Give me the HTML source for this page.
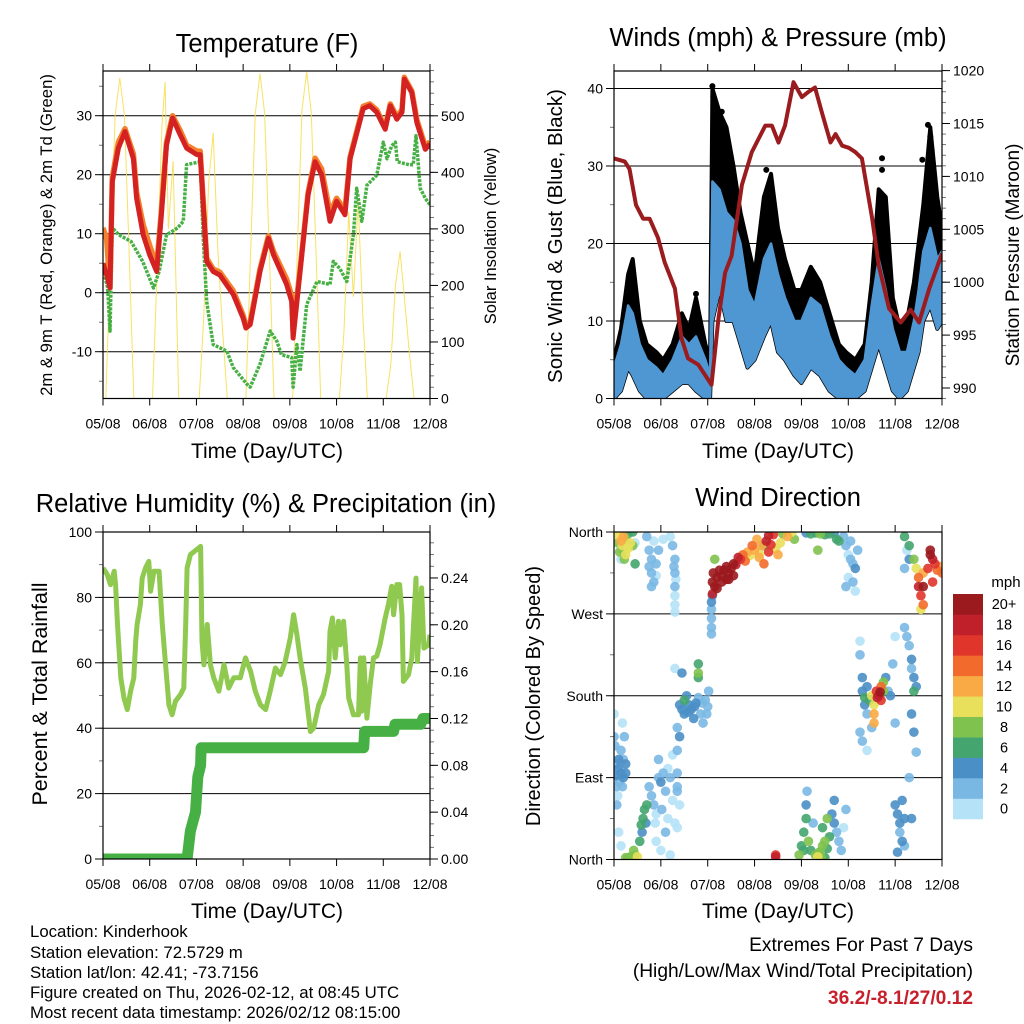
<!DOCTYPE html>
<html><head><meta charset="utf-8"><style>
html,body{margin:0;padding:0;background:#fff;}
svg{display:block;font-family:"Liberation Sans",Arial,sans-serif;}
</style></head><body>
<svg id="chart" width="1024" height="1024" viewBox="0 0 1024 1024" xmlns="http://www.w3.org/2000/svg">
<rect x="0" y="0" width="1024" height="1024" fill="#fff"/>
<text x="267" y="52" font-size="25.5" text-anchor="middle">Temperature (F)</text>
<text x="778" y="46" font-size="25.5" text-anchor="middle">Winds (mph) &amp; Pressure (mb)</text>
<text x="266" y="512" font-size="25.5" text-anchor="middle">Relative Humidity (%) &amp; Precipitation (in)</text>
<text x="778" y="506" font-size="25.5" text-anchor="middle">Wind Direction</text>
<text x="267" y="458" font-size="21" text-anchor="middle">Time (Day/UTC)</text>
<text x="778" y="458" font-size="21" text-anchor="middle">Time (Day/UTC)</text>
<text x="267" y="918" font-size="21" text-anchor="middle">Time (Day/UTC)</text>
<text x="778" y="918" font-size="21" text-anchor="middle">Time (Day/UTC)</text>
<text transform="translate(52,235) rotate(-90)" font-size="16.7" text-anchor="middle">2m &amp; 9m T (Red, Orange) &amp; 2m Td (Green)</text>
<text transform="translate(496,236) rotate(-90)" font-size="16.5" text-anchor="middle">Solar Insolation (Yellow)</text>
<text transform="translate(562,236) rotate(-90)" font-size="20.5" text-anchor="middle">Sonic Wind &amp; Gust (Blue, Black)</text>
<text transform="translate(1019,255) rotate(-90)" font-size="19" text-anchor="middle">Station Pressure (Maroon)</text>
<text transform="translate(47,694) rotate(-90)" font-size="21.5" text-anchor="middle">Percent &amp; Total Rainfall</text>
<text transform="translate(540,696) rotate(-90)" font-size="20" text-anchor="middle">Direction (Colored By Speed)</text>
<g font-size="16.8">
<text x="30" y="937">Location: Kinderhook</text>
<text x="30" y="958">Station elevation: 72.5729 m</text>
<text x="30" y="978">Station lat/lon: 42.41; -73.7156</text>
<text x="30" y="998">Figure created on Thu, 2026-02-12, at 08:45 UTC</text>
<text x="30" y="1018">Most recent data timestamp: 2026/02/12 08:15:00</text>
</g>
<g font-size="19.2" text-anchor="end">
<text x="973" y="951">Extremes For Past 7 Days</text>
<text x="973" y="977">(High/Low/Max Wind/Total Precipitation)</text>
<text x="973" y="1004" fill="#c8202a" font-weight="bold">36.2/-8.1/27/0.12</text>
</g>
<text x="1006" y="587" font-size="15" text-anchor="middle">mph</text>
</svg>
<script>
// ---------- data ----------
const dayLabels = ['05/08','06/08','07/08','08/08','09/08','10/08','11/08','12/08'];
const tempT = [0,0.08,0.15,0.2,0.33,0.47,0.65,0.72,0.86,1.0,1.15,1.25,1.36,1.49,1.65,1.79,2.01,2.08,2.22,2.36,2.5,2.79,3.0,3.06,3.15,3.36,3.54,3.65,3.93,4.04,4.07,4.22,4.39,4.54,4.68,4.86,5.0,5.18,5.29,5.57,5.71,5.86,6.04,6.15,6.29,6.4,6.45,6.61,6.72,6.9,7.0];
const temp2m = [5,3,0.8,18.8,24.5,27.3,22.7,16,9.8,6.4,3.6,13.2,25,29.6,26.8,24.5,23.4,23.4,5.3,3.6,3.0,-0.3,-4.3,-6,-5.4,3.6,9.2,6.4,1.4,-1.5,-7.7,3.6,16.6,22.2,20,12.1,15.5,13.2,22.7,31.2,31.7,30.6,27.7,31.7,29.4,30.6,36.2,33.9,28.8,24.3,25.2];
const temp9m = [11,9,1,19.5,25.5,27.8,23.5,17,11.5,8,4.5,14,25.5,30,27.5,25,24,24,5.8,4,3.5,0.3,-3.8,-5.5,-5,4,9.6,7,2.3,-0.5,-6.5,4,17,22.8,21,13.5,16,14,23,31.6,32,31,28,32,29.8,31,36.5,34.2,29.3,24.8,25.6];
const dewT = [0,0.1,0.15,0.2,0.34,0.6,0.85,1.08,1.2,1.36,1.6,1.72,1.79,2.08,2.15,2.22,2.36,2.65,2.79,3.08,3.15,3.36,3.58,3.72,3.82,4.04,4.07,4.15,4.22,4.36,4.58,4.86,4.93,5.07,5.22,5.36,5.43,5.54,5.65,5.86,6.0,6.08,6.18,6.26,6.3,6.55,6.64,6.7,6.79,6.9,7.0];
const dewV = [4.1,0.8,-6.5,11,9.8,8.7,5.3,0.8,3.6,9.8,11,12.1,21.7,22.2,8.7,-1.5,-8.8,-9.9,-12.7,-15.5,-16,-12.1,-6.5,-8.2,-10.5,-11,-16,-8.8,-13.3,-2,1.9,1.4,5.3,4.1,1.9,9.8,17.7,12.1,18.2,19.9,25.5,22.7,24.9,25.5,22.2,21.7,21.7,26.6,17.7,16,14.9];
const solarT = [0.06,0.16,0.26,0.36,0.46,0.56,0.66, 1.06,1.16,1.26,1.33,1.4,1.5,1.62, 2.06,2.16,2.26,2.36,2.46,2.56,2.66, 3.06,3.16,3.26,3.36,3.46,3.56,3.66, 4.06,4.16,4.26,4.36,4.46,4.56,4.66, 5.06,5.16,5.26,5.36,5.46,5.56,5.66, 6.06,6.16,6.26,6.36,6.46,6.56,6.66];
const solarV = [0,255,500,567,500,255,0, 0,230,480,560,300,420,0, 0,150,380,470,260,120,0, 0,260,505,575,505,260,0, 0,260,510,578,505,260,0, 0,120,330,180,350,150,0, 0,60,200,260,170,80,0];
const windT = [0,0.15,0.3,0.4,0.55,0.7,0.9,1.05,1.25,1.45,1.6,1.75,1.95,2.05,2.1,2.25,2.4,2.55,2.7,2.85,3.0,3.2,3.35,3.5,3.65,3.85,4.0,4.2,4.4,4.6,4.8,4.95,5.15,5.35,5.5,5.65,5.8,5.95,6.1,6.25,6.4,6.5,6.6,6.75,6.9,7.0];
const windLo = [0,1,4,3,1,0,0,0,1,2,2,1,0,0,10,14,10,10,7,4,5,8,10,6,5,3,2,4,3,1,0,0,0,1,4,7,4,1,0,1,4,6,10,12,9,10];
const windHi = [4,7,12,11,7,5,4,3,5,8,7,8,5,3,28,27,24,23,20,14,12,18,20,16,13,10,10,13,12,8,5,4,3,5,12,18,14,9,6,6,10,14,19,22,18,19];
const gustV = [5,9,16,18,10,7,6,5,7,11,9,13,7,5,40,37,35,30,24,20,16,26,29,22,18,14,14,17,15,11,7,6,5,7,15,27,26,13,9,10,15,20,25,35,26,22];
const gustDotT = [2.1,2.12,2.3,2.35,3.25,5.72,5.72,6.58,6.7,6.75,6.78,1.75,1.75];
const gustDotV = [40.3,39,37,33.5,29.5,31,29.5,30.8,35.3,33.8,32,13.5,12.3];
const presT = [0,0.23,0.33,0.47,0.62,0.76,0.94,1.08,1.3,1.44,1.58,1.8,2.08,2.23,2.37,2.51,2.73,2.94,3.23,3.37,3.51,3.65,3.83,4.01,4.15,4.29,4.44,4.62,4.73,4.87,5.01,5.15,5.29,5.51,5.65,5.87,6.12,6.33,6.51,6.73,7.0];
const presV = [1011.7,1011.4,1010.7,1007.3,1006,1006,1004.2,1001.9,999.4,994.7,992.8,992.2,990.3,996.6,1000.9,1002.5,1009.2,1012.3,1014.8,1014.8,1013.2,1014.8,1018.9,1017.5,1018,1018.4,1016,1013.2,1014,1012.9,1012.7,1012.3,1011.7,1006,1001.6,997.5,996.2,997.4,996.2,999.4,1002.7];
const rhT = [0,0.09,0.16,0.24,0.27,0.31,0.38,0.45,0.52,0.59,0.66,0.70,0.73,0.80,0.84,0.91,0.98,1.02,1.09,1.20,1.23,1.27,1.34,1.41,1.48,1.55,1.66,1.73,1.77,1.80,1.87,2.09,2.12,2.16,2.23,2.30,2.37,2.48,2.59,2.69,2.80,2.94,3.05,3.16,3.26,3.37,3.48,3.58,3.69,3.80,3.90,4.01,4.08,4.15,4.22,4.33,4.44,4.51,4.62,4.72,4.83,4.86,4.91,4.97,5.04,5.08,5.15,5.22,5.26,5.36,5.47,5.51,5.54,5.58,5.65,5.72,5.79,5.86,5.93,6.04,6.11,6.18,6.22,6.29,6.35,6.40,6.43,6.54,6.61,6.70,6.73,6.82,6.87,6.97,7.0];
const rhV = [89,87,83.9,88,83.9,71.7,55.4,49.2,45.7,51.3,55.4,66.6,71.7,77.8,85.9,89,91,81.9,88,88,80.8,71.7,59.4,47.2,44.1,48.2,50.3,52.3,71.7,89,93.1,95.6,66.6,59.4,71.7,59.4,55.4,51.3,59.4,52.3,55.4,55.4,61.5,57.4,51.3,47.2,45.7,51.3,58.4,56.4,60.4,67.6,74.7,68.6,61.5,52.3,39,40.1,47.2,50.3,57.4,69.6,73.7,61.5,72.7,65.5,72.7,59.4,49.2,44.1,44.1,61.5,45.2,61.5,43.1,53.3,61.5,62,65.5,73.7,77.8,83.4,74.7,83.9,83.9,74.7,54.3,56.4,61.5,85.9,60.4,82.9,64.5,65.5,68.6];
const precipT = [0,1.8,1.87,1.98,2.03,2.09,2.1,5.58,5.6,6.22,6.25,6.8,6.85,7.0];
const precipV = [0,0,0.024,0.04,0.07,0.08,0.095,0.095,0.109,0.109,0.115,0.115,0.12,0.12];
const dirPts = [
[0.1,356,10],[0.15,350,12],[0.18,345,11],[0.2,340,9],[0.25,352,8],[0.3,358,7],[0.35,348,10],[0.4,360,6],[0.25,335,10],[0.45,325,6],[0.12,338,8],[0.2,355,13],[0.22,330,9],[0.4,345,8],[0.08,348,9],[0.3,342,11],
[0.7,355,2],[0.75,340,3],[0.8,330,2],[0.8,315,3],[0.85,350,1],[0.9,325,3],[0.95,340,2],[0.85,305,2],[0.8,300,3],[1.05,352,1],[1.2,355,1],[1.25,345,2],[1.3,330,3],[1.3,315,2],[1.3,300,3],[1.3,290,1],[1.3,280,1],[1.3,272,1],[0.15,330,1],[0.45,348,1],[0.75,322,2],[0.9,312,1],[1.28,322,2],[1.32,308,1],
[0.0,160,1],[0.0,135,2],[0.02,125,2],[0.05,105,3],[0.1,100,4],[0.15,95,4],[0.2,90,4],[0.25,95,4],[0.2,110,3],[0.15,120,2],[0.22,135,2],[0.05,80,2],[0.12,85,3],[0.25,105,4],[0.18,150,1],[0.08,70,1],[0.03,92,4],[0.1,110,4],[0.18,80,3],[0.06,60,2],
[0.3,2,7],[0.35,3,8],[0.45,5,9],[0.5,3,10],[0.42,10,8],[0.55,20,6],[0.6,30,4],[0.62,45,6],[0.65,55,7],[0.7,60,6],[0.68,40,4],[0.1,30,1],[0.15,15,1],[0.25,2,8],[0.38,1,8],[0.58,38,6],
[0.75,80,2],[0.8,70,3],[0.85,60,2],[0.9,50,1],[0.95,90,3],[1.0,85,4],[1.05,95,3],[1.1,75,2],[1.15,100,1],[1.2,90,2],[1.25,65,1],[1.3,40,1],[1.35,80,2],[0.9,20,1],[1.0,10,1],[1.1,30,2],[1.2,5,1],[1.4,60,1],[1.35,35,1],[0.95,110,2],[1.25,115,1],[0.88,40,1],[1.02,55,2],[1.15,45,1],
[1.4,170,4],[1.45,165,4],[1.5,175,6],[1.5,160,4],[1.55,180,4],[1.6,170,5],[1.65,165,4],[1.7,155,4],[1.75,172,4],[1.8,178,3],[1.85,160,3],[1.9,150,3],[1.95,175,2],[2.0,168,2],[2.02,185,2],[1.8,200,6],[1.8,215,7],[1.8,205,8],[1.45,205,4],[1.3,210,1],[1.4,135,4],[1.35,145,2],[1.35,120,2],[1.35,95,2],[1.35,75,2],[1.58,162,4],[1.72,168,4],[1.88,172,2],[1.98,160,2],
[2.08,283,4],[2.08,275,2],[2.08,265,2],[2.08,255,2],[2.08,248,2],[2.1,290,4],
[2.1,292,18],[2.1,305,20],[2.12,315,21],[2.15,300,21],[2.2,310,22],[2.25,318,20],[2.3,312,22],[2.35,318,21],[2.4,322,22],[2.45,315,21],[2.5,320,22],[2.55,325,20],[2.6,324,19],[2.65,332,18],[2.7,330,16],[2.75,335,14],[2.8,328,15],[2.85,338,12],[2.9,334,10],[2.15,330,8],[2.4,308,20],[2.55,312,21],[2.3,305,21],[2.45,308,22],[2.2,298,20],
[2.95,345,14],[3.0,340,13],[3.05,352,12],[3.1,336,11],[3.15,345,13],[3.2,325,14],[3.25,350,18],[3.3,356,19],[3.35,346,17],[3.4,357,16],[3.45,342,11],[3.5,335,12],[3.55,348,10],[3.6,358,9],[3.7,355,12],[3.8,360,10],[3.85,352,8],[3.1,332,12],[3.3,338,16],[3.2,345,7],
[4.1,359,4],[4.2,358,6],[4.3,359,7],[4.4,358,8],[4.5,357,7],[4.6,358,6],[4.7,359,5],[4.75,352,6],[4.8,350,6],[4.35,340,8],
[4.9,355,2],[4.95,345,2],[5.0,335,1],[5.05,350,2],[5.1,325,2],[5.15,320,4],[5.2,340,2],[5.1,305,2],[5.0,310,1],[4.95,300,2],[5.15,295,1],[5.05,330,2],
[3.95,5,8],[4.0,15,6],[4.05,30,6],[4.1,45,6],[4.1,60,4],[4.12,75,2],[4.15,20,8],[4.2,10,6],[4.25,40,2],[4.3,5,9],[4.35,3,10],[4.4,8,8],[4.45,15,8],[4.5,2,6],[4.55,12,7],[4.6,25,6],[4.65,50,4],[4.7,65,4],[4.7,40,4],[4.75,30,3],[4.8,20,2],[4.85,10,2],[4.9,35,1],[4.95,55,2],[4.5,20,8],[4.55,45,8],[4.45,35,6],[4.38,8,8],[4.42,2,9],[4.05,10,6],
[3.45,3,18],[3.45,5,16],
[5.25,240,1],[5.25,225,2],[5.3,200,4],[5.3,185,4],[5.35,178,6],[5.35,170,4],[5.4,190,4],[5.4,160,2],[5.25,140,2],[5.3,130,2],[5.45,175,6],[5.5,180,10],[5.55,170,10],[5.55,160,12],[5.55,150,12],[5.6,185,16],[5.65,180,18],[5.7,175,16],[5.7,190,14],[5.75,185,8],[5.75,195,8],[5.8,200,4],[5.85,185,2],[5.9,180,4],[5.95,215,2],[6.0,245,1],[6.0,150,2],[5.5,145,2],[5.4,120,1],[5.62,178,18],[5.68,184,20],
[6.0,60,4],[6.05,50,4],[6.1,40,4],[6.1,30,3],[6.15,20,4],[6.2,15,3],[6.2,45,4],[6.05,8,4],[6.35,45,4],[6.15,65,4],[6.3,90,2],
[6.2,255,2],[6.25,245,3],[6.3,235,2],[6.35,220,4],[6.35,210,3],[6.4,200,4],[6.4,185,6],[6.45,190,4],[6.35,160,4],[6.4,140,4],[6.45,118,2],
[6.3,345,6],[6.4,330,8],[6.45,320,10],[6.5,310,14],[6.5,300,18],[6.55,290,16],[6.6,280,14],[6.55,275,10],[6.6,315,12],[6.7,320,16],[6.75,335,20],[6.8,330,18],[6.85,325,16],[6.9,318,14],[6.95,322,12],[7.0,315,14],[6.8,305,16],[6.75,340,20],[6.6,300,20],[6.2,355,6],[6.25,340,1],[6.3,330,4],[6.2,320,2]
];
const speedLabels = ['0','2','4','6','8','10','12','14','16','18','20+'];
const speedColors = ['#b6e2f7','#7ab8e4','#4a8fc6','#44a56e','#7fc24e','#e8e05a','#f9aa45','#f26a2c','#e0352b','#c0202a','#9b1a1e'];
const tempTicks = [-10,0,10,20,30];
const solarTicks = [0,100,200,300,400,500];
const windTicks = [0,10,20,30,40];
const presTicks = [990,995,1000,1005,1010,1015,1020];
const rhTicks = [0,20,40,60,80,100];
const precipTicks = [0,0.04,0.08,0.12,0.16,0.20,0.24];
const dirTicks = [0,90,180,270,360];
const dirLabels = ['North','East','South','West','North'];

// ---------- helpers ----------
const NS = 'http://www.w3.org/2000/svg';
const svg = document.getElementById('chart');
function mk(tag, attrs, parent){ const e = document.createElementNS(NS, tag); for (const k in attrs) e.setAttribute(k, attrs[k]); (parent||svg).appendChild(e); return e; }

const P1 = {x0:103,x1:430,y0:71,y1:398.5};
const P2 = {x0:614,x1:942,y0:71,y1:398.5};
const P3 = {x0:103,x1:430,y0:532,y1:859};
const P4 = {x0:614,x1:942,y0:532,y1:859.5};
function xd(p,d){ return p.x0 + d/7*(p.x1-p.x0); }
const yTemp = v => 292.7 - 5.9*v;
const ySolar = v => 398.5 - 0.5654*v;
const yWind = v => 398.5 - 7.75*v;
const yPres = v => 388 - 10.58*(v-990);
const yRh = v => 859 - 3.27*v;
const yPrecip = v => 859 - 1171*v;
const yDir = v => 859.5 - v*(327.5/360);

function pathFrom(p, ts, vs, yf){ let s=''; for (let i=0;i<ts.length;i++){ s += (i?'L':'M') + xd(p,ts[i]).toFixed(1) + ' ' + yf(vs[i]).toFixed(1); } return s; }

function frame(p, key){
  const g = mk('g', {});
  
  
  for (let i=0;i<dayLabels.length;i++){
    const x = xd(p,i);
    const t1 = mk('line', {x1:x,x2:x,y1:p.y0,y2:p.y0-7,stroke:'#000','stroke-width':1}, g);
    
    
    const t2 = mk('line', {x1:x,x2:x,y1:p.y1,y2:p.y1+7,stroke:'#000','stroke-width':1}, g);
    
    
    const lb = mk('text', {x:x,y:p.y1+30,'font-size':14,'text-anchor':'middle'}, g);
    lb.textContent = dayLabels[i];
    
    
  }
  return g;
}
function yAxis(p, key, ticks, labels, yf, side, minorStep, minorFrom, minorTo, grid){
  const g = mk('g', {});
  
  
  const xe = side==='left' ? p.x0 : p.x1;
  const dir = side==='left' ? -1 : 1;
  for (let v=minorFrom; v<=minorTo+1e-9; v+=minorStep){
    const y = yf(v);
    if (y < p.y0-0.5 || y > p.y1+0.5) continue;
    const m = mk('line', {x1:xe,x2:xe+dir*4,y1:y,y2:y,stroke:'#555','stroke-width':0.8}, g);
    
    
  }
  for (let i=0;i<ticks.length;i++){
    const y = yf(ticks[i]);
    if (grid){
      const gl = mk('line', {x1:p.x0,x2:p.x1,y1:y,y2:y,stroke:'#000','stroke-width':1}, g);
      
      
    }
    const t = mk('line', {x1:xe,x2:xe+dir*8,y1:y,y2:y,stroke:'#000','stroke-width':1}, g);
    
    
    const lb = mk('text', {x:xe+dir*11,y:y+5,'font-size':14,'text-anchor':side==='left'?'end':'start'}, g);
    lb.textContent = labels[i];
    
    
  }
}
function border(p, key){
  const r = mk('rect', {x:p.x0,y:p.y0,width:p.x1-p.x0,height:p.y1-p.y0,fill:'none',stroke:'#000','stroke-width':1.2});
  
  
}
function clip(p, id){
  const c = mk('clipPath', {id:id});
  mk('rect', {x:p.x0,y:p.y0,width:p.x1-p.x0,height:p.y1-p.y0}, c);
}
clip(P1,'c1'); clip(P2,'c2'); clip(P3,'c3'); clip(P4,'c4');

// ---------- Panel 1: temperature ----------
yAxis(P1,'temp',tempTicks,tempTicks.map(String),yTemp,'left',5,-15,35,true);
yAxis(P1,'solar',solarTicks,solarTicks.map(String),ySolar,'right',20,0,580,false);
frame(P1,'temp');
const g1 = mk('g', {'clip-path':'url(#c1)'});


const solarLine = mk('path', {d:pathFrom(P1,solarT,solarV,ySolar),fill:'none',stroke:'#f6df52','stroke-width':1,opacity:0.9}, g1);


const dewLine = mk('path', {d:pathFrom(P1,dewT,dewV,yTemp),fill:'none',stroke:'#46b044','stroke-width':3.5,'stroke-dasharray':'3 1.2','stroke-linejoin':'round'}, g1);


const t9Line = mk('path', {d:pathFrom(P1,tempT,temp9m,yTemp),fill:'none',stroke:'#f4812e','stroke-width':5.5,'stroke-linejoin':'round'}, g1);


const t2Line = mk('path', {d:pathFrom(P1,tempT,temp2m,yTemp),fill:'none',stroke:'#d42222','stroke-width':5,'stroke-linejoin':'round'}, g1);


border(P1,'temp');

// ---------- Panel 2: winds ----------
yAxis(P2,'wind',windTicks,windTicks.map(String),yWind,'left',5,0,40,true);
yAxis(P2,'pressure',presTicks,presTicks.map(String),yPres,'right',1,989,1021,false);
frame(P2,'wind');
const g2 = mk('g', {'clip-path':'url(#c2)'});


function band(p, ts, lo, hi, yf){ let s=''; for (let i=0;i<ts.length;i++) s += (i?'L':'M')+xd(p,ts[i]).toFixed(1)+' '+yf(hi[i]).toFixed(1); for (let i=ts.length-1;i>=0;i--) s += 'L'+xd(p,ts[i]).toFixed(1)+' '+yf(lo[i]).toFixed(1); return s+'Z'; }
const gustBand = mk('path', {d:band(P2,windT,windLo,gustV,yWind),fill:'#000',stroke:'#000','stroke-width':4,'stroke-linejoin':'round'}, g2);


for (let i=0;i<gustDotT.length;i++){
  const c = mk('circle', {cx:xd(P2,gustDotT[i]),cy:yWind(gustDotV[i]),r:3,fill:'#000'}, g2);
  
  
}
const windBand = mk('path', {d:band(P2,windT,windLo,windHi,yWind),fill:'#4f97d3',stroke:'#4f97d3','stroke-width':2.5,'stroke-linejoin':'round'}, g2);


const presLine = mk('path', {d:pathFrom(P2,presT,presV,yPres),fill:'none',stroke:'#9b1c1f','stroke-width':4,'stroke-linejoin':'round'}, g2);


border(P2,'wind');

// ---------- Panel 3: humidity ----------
yAxis(P3,'rh',rhTicks,rhTicks.map(String),yRh,'left',10,0,100,true);
yAxis(P3,'precip',precipTicks,precipTicks.map(v=>v.toFixed(2)),yPrecip,'right',0.01,0,0.28,false);
frame(P3,'rh');
const g3 = mk('g', {'clip-path':'url(#c3)'});


const rhLine = mk('path', {d:pathFrom(P3,rhT,rhV,yRh),fill:'none',stroke:'#8fc94f','stroke-width':5,'stroke-linejoin':'round'}, g3);


const prLine = mk('path', {d:pathFrom(P3,precipT,precipV,yPrecip),fill:'none',stroke:'#46b044','stroke-width':11,'stroke-linejoin':'round','stroke-linecap':'round'}, g3);


border(P3,'rh');

// ---------- Panel 4: direction ----------
yAxis(P4,'dir',dirTicks,dirLabels,yDir,'left',45,0,360,true);
frame(P4,'dir');
const g4 = mk('g', {'clip-path':'url(#c4)'});


const sorted = dirPts.slice().sort((a,b)=>a[2]-b[2]);
for (const d of sorted){
  const ci = Math.min(10, Math.floor(d[2]/2));
  const c = mk('circle', {cx:xd(P4,d[0]),cy:yDir(d[1]),r:4.8,fill:speedColors[ci],opacity:0.9}, g4);
  
  
}
border(P4,'dir');

// ---------- colorbar ----------
const cb = mk('g', {});


const cbTop = 594, cbH = 20.45;
for (let i=0;i<speedColors.length;i++){
  const y = cbTop + (speedColors.length-1-i)*cbH;
  const r = mk('rect', {x:953,y:y,width:30,height:cbH+0.3,fill:speedColors[i]}, cb);
  
  
  const t = mk('text', {x:1004,y:y+cbH/2+5,'font-size':14.5,'text-anchor':'middle'}, cb);
  t.textContent = speedLabels[i];
  
  
}
</script>
</body></html>
